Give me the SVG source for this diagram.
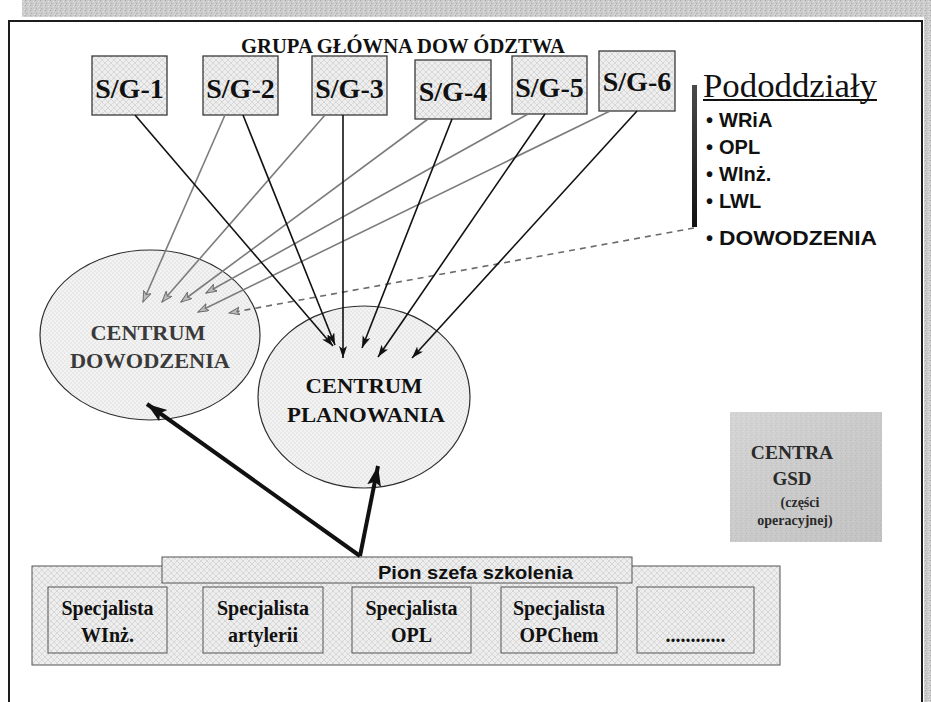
<svg xmlns="http://www.w3.org/2000/svg" width="931" height="702" viewBox="0 0 931 702">
  <defs>
    <style>
      .box { fill: url(#hatch); stroke: #3a3a3a; stroke-width: 1.3; }
      .sub { fill: url(#hatch); stroke: #555; stroke-width: 1; }
      .oval { fill: url(#dots); stroke: #2e2e2e; stroke-width: 1.2; }
      .sg { font-family: "Liberation Serif", "Times New Roman", serif; font-weight: bold; font-size: 28px; fill: #111; text-anchor: middle; }
      .serif { font-family: "Liberation Serif", "Times New Roman", serif; font-weight: bold; fill: #111; text-anchor: middle; }
      .left { text-anchor: start; }
      .plain { font-weight: normal; }
      .dim { fill: #3a3a3a; }
      .gsd { fill: #2a2a2a; }
      .sans { font-family: "Liberation Sans", Arial, sans-serif; font-weight: bold; fill: #111; }
      .black { stroke: #111; stroke-width: 1.6; fill: none; marker-end: url(#ahBlack); }
      .grey { stroke: #7c7c7c; stroke-width: 1.6; fill: none; marker-end: url(#ahGrey); }
      .dash { stroke: #6a6a6a; stroke-width: 1.6; fill: none; stroke-dasharray: 6 5; marker-end: url(#ahGrey); }
      .thick { stroke: #111; stroke-width: 4; fill: none; marker-end: url(#ahBig); }
    </style>
    <pattern id="hatch" width="6" height="6" patternUnits="userSpaceOnUse">
      <rect width="6" height="6" fill="#eeeeee"/>
      <path d="M0,6 L6,0 M0,0 L6,6" stroke="#cdcdcd" stroke-width="0.7"/>
    </pattern>
    <pattern id="dots" width="4" height="4" patternUnits="userSpaceOnUse">
      <rect width="4" height="4" fill="#f3f3f3"/>
      <circle cx="1" cy="1" r="0.6" fill="#c6c6c6"/>
      <circle cx="3" cy="3" r="0.6" fill="#c6c6c6"/>
    </pattern>
    <pattern id="speckle" width="5" height="5" patternUnits="userSpaceOnUse">
      <rect width="5" height="5" fill="#cbcbcb"/>
      <rect x="0" y="0" width="1" height="1" fill="#a8a8a8"/>
      <rect x="3" y="1" width="1" height="1" fill="#e6e6e6"/>
      <rect x="1" y="3" width="1" height="1" fill="#b0b0b0"/>
      <rect x="4" y="4" width="1" height="1" fill="#e2e2e2"/>
    </pattern>
    <linearGradient id="gsdShade" x1="0" y1="0" x2="1" y2="1">
      <stop offset="0" stop-color="#dadada"/>
      <stop offset="0.5" stop-color="#c9c9c9"/>
      <stop offset="1" stop-color="#bdbdbd"/>
    </linearGradient>
    <linearGradient id="barShade" x1="0" y1="0" x2="0" y2="1">
      <stop offset="0" stop-color="#4a4a4a"/>
      <stop offset="1" stop-color="#111"/>
    </linearGradient>
    <marker id="ahBlack" markerUnits="userSpaceOnUse" markerWidth="14" markerHeight="10" refX="12" refY="4" orient="auto">
      <path d="M0,0 L12,4 L0,8 L3,4 z" fill="#111"/>
    </marker>
    <marker id="ahGrey" markerUnits="userSpaceOnUse" markerWidth="14" markerHeight="10" refX="11" refY="4" orient="auto">
      <path d="M0,0 L11,4 L0,8 L3,4 z" fill="#bcbcbc" stroke="#6f6f6f" stroke-width="1"/>
    </marker>
    <marker id="ahBig" markerUnits="userSpaceOnUse" markerWidth="22" markerHeight="16" refX="20" refY="7" orient="auto">
      <path d="M0,0 L20,7 L0,14 L4,7 z" fill="#111"/>
    </marker>
  </defs>

  <!-- page background and scanned edges -->
  <rect width="931" height="702" fill="#fff"/>
  <rect x="22" y="0" width="909" height="17" fill="url(#speckle)"/>
  <rect x="924" y="0" width="7" height="702" fill="url(#speckle)"/>
  <rect x="9" y="21" width="913" height="700" fill="none" stroke="#1c1c1c" stroke-width="2"/>

  <!-- title -->
  <g id="title">
    <text class="serif" x="403" y="53" font-size="21" textLength="324" lengthAdjust="spacingAndGlyphs">GRUPA GŁÓWNA DOW ÓDZTWA</text>
  </g>

  <!-- staff cells -->
  <g id="sg1"><rect class="box" x="92" y="56" width="75" height="59"/><text class="sg" x="129.5" y="98">S/G-1</text></g>
  <g id="sg2"><rect class="box" x="203" y="56" width="75" height="59"/><text class="sg" x="240.5" y="98">S/G-2</text></g>
  <g id="sg3"><rect class="box" x="312" y="56" width="75" height="59"/><text class="sg" x="349.5" y="98">S/G-3</text></g>
  <g id="sg4"><rect class="box" x="415" y="60" width="76" height="59"/><text class="sg" x="453" y="101">S/G-4</text></g>
  <g id="sg5"><rect class="box" x="512" y="56" width="75" height="58"/><text class="sg" x="549.5" y="97">S/G-5</text></g>
  <g id="sg6"><rect class="box" x="599" y="51" width="76" height="60"/><text class="sg" x="637" y="91">S/G-6</text></g>

  <!-- subunits list -->
  <g id="pododdzialy">
    <rect x="692" y="85" width="5" height="142" fill="url(#barShade)"/>
    <text class="serif left plain" x="703" y="97" font-size="33" textLength="174" lengthAdjust="spacingAndGlyphs">Pododdziały</text>
    <rect x="703" y="99" width="174" height="2" fill="#111"/>
    <g class="sans" font-size="20">
      <text x="706" y="127">•</text><text x="719" y="127">WRiA</text>
      <text x="706" y="154">•</text><text x="719" y="154">OPL</text>
      <text x="706" y="181">•</text><text x="719" y="181">WInż.</text>
      <text x="706" y="208">•</text><text x="719" y="208">LWL</text>
      <text x="706" y="245">•</text><text x="719" y="245" textLength="158" lengthAdjust="spacingAndGlyphs">DOWODZENIA</text>
    </g>
  </g>

  <!-- command centre -->
  <g id="centrum-dowodzenia">
    <ellipse class="oval" cx="150" cy="335" rx="110" ry="85"/>
    <text class="serif dim" x="148" y="340" font-size="21" textLength="115" lengthAdjust="spacingAndGlyphs">CENTRUM</text>
    <text class="serif dim" x="150" y="368" font-size="21" textLength="160" lengthAdjust="spacingAndGlyphs">DOWODZENIA</text>
  </g>

  <!-- planning centre -->
  <g id="centrum-planowania">
    <ellipse class="oval" cx="364" cy="397" rx="106" ry="91"/>
    <text class="serif" x="364" y="393" font-size="21" textLength="117" lengthAdjust="spacingAndGlyphs">CENTRUM</text>
    <text class="serif" x="366" y="422" font-size="21" textLength="158" lengthAdjust="spacingAndGlyphs">PLANOWANIA</text>
  </g>

  <!-- GSD centres -->
  <g id="centra-gsd">
    <rect x="730" y="412" width="152" height="130" fill="url(#gsdShade)"/>
    <rect x="730" y="412" width="152" height="130" fill="url(#speckle)" opacity="0.35"/>
    <text class="serif gsd" x="792" y="459" font-size="19.5">CENTRA</text>
    <text class="serif gsd" x="792" y="485" font-size="19">GSD</text>
    <text class="serif gsd" x="800" y="507" font-size="14">(części</text>
    <text class="serif gsd" x="795" y="525" font-size="14">operacyjnej)</text>
  </g>

  <!-- training chief division -->
  <g id="pion-szefa-szkolenia">
    <rect class="sub" x="32" y="566" width="748" height="99"/>
    <rect class="sub" x="162" y="557" width="470" height="26"/>
    <text class="sans" x="378" y="579" font-size="19" textLength="195" lengthAdjust="spacingAndGlyphs">Pion szefa szkolenia</text>
  </g>
  <g id="spec-winz"><rect class="sub" x="48" y="587" width="119" height="66"/><text class="serif" x="107.5" y="615" font-size="20">Specjalista</text><text class="serif" x="107.5" y="642" font-size="20">WInż.</text></g>
  <g id="spec-artylerii"><rect class="sub" x="203" y="587" width="120" height="66"/><text class="serif" x="263" y="615" font-size="20">Specjalista</text><text class="serif" x="263" y="642" font-size="20">artylerii</text></g>
  <g id="spec-opl"><rect class="sub" x="352" y="587" width="119" height="66"/><text class="serif" x="411.5" y="615" font-size="20">Specjalista</text><text class="serif" x="411.5" y="642" font-size="20">OPL</text></g>
  <g id="spec-opchem"><rect class="sub" x="501" y="587" width="116" height="66"/><text class="serif" x="559" y="615" font-size="20">Specjalista</text><text class="serif" x="559" y="642" font-size="20">OPChem</text></g>
  <g id="spec-more"><rect class="sub" x="637" y="587" width="117" height="66"/><text class="serif" x="695.5" y="642" font-size="20">............</text></g>

  <!-- connectors -->
  <g id="connectors">
    <!-- to the command centre -->
    <line class="grey" x1="225" y1="115" x2="143" y2="302"/>
    <line class="grey" x1="325" y1="115" x2="162" y2="302"/>
    <line class="grey" x1="428" y1="119" x2="181" y2="302"/>
    <line class="grey" x1="528" y1="114" x2="206" y2="293"/>
    <line class="grey" x1="610" y1="111" x2="198" y2="312"/>
    <line class="dash" x1="694" y1="228" x2="229" y2="313"/>
    <!-- to the planning centre -->
    <line class="black" x1="135" y1="115" x2="333" y2="346"/>
    <line class="black" x1="243" y1="115" x2="335" y2="345"/>
    <line class="black" x1="343" y1="115" x2="343" y2="358"/>
    <line class="black" x1="452" y1="119" x2="362" y2="348"/>
    <line class="black" x1="545" y1="114" x2="378" y2="357"/>
    <line class="black" x1="637" y1="111" x2="412" y2="358"/>
    <!-- from the training chief -->
    <line class="thick" x1="360" y1="556" x2="147" y2="404"/>
    <line class="thick" x1="360" y1="556" x2="378" y2="466"/>
  </g>
</svg>
